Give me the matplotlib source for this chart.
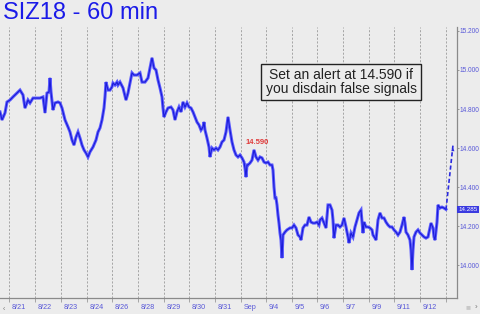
import matplotlib
matplotlib.use("Agg")
import matplotlib.pyplot as plt
import matplotlib.transforms as mtransforms
from matplotlib.patches import FancyArrowPatch

# ---- data (hourly bar index, price) ----
bars = [0, 2, 5, 7, 10, 13, 17, 20, 23, 25, 28, 30, 33, 37, 40, 43, 45, 47, 49, 50,
        51, 53, 55, 58, 60, 62, 65, 68, 70, 72, 74, 76, 78, 80, 82, 84, 86, 88, 90, 93,
        96, 98, 100, 102, 104, 105, 106, 108, 110, 112, 113, 115, 117, 118, 120, 123, 126, 128, 130, 132,
        134, 137, 140, 142, 145, 148, 150, 152, 154, 156, 158, 160, 162, 163, 164, 166, 168, 171, 173, 175,
        177, 179, 181, 183, 185, 187, 189, 191, 193, 195, 197, 199, 201, 203, 204, 205, 207, 209, 210, 212,
        214, 216, 218, 220, 222, 224, 226, 228, 230, 232, 234, 236, 238, 240, 242, 244, 245, 246, 247, 248,
        250, 252, 254, 256, 258, 260, 262, 264, 266, 268, 270, 272, 273, 274, 275, 276, 277, 278, 279, 280,
        281, 282, 283, 285, 287, 290, 292, 294, 296, 298, 300, 301, 303, 305, 307, 309, 311, 313, 315, 317,
        319, 320, 322, 324, 326, 328, 330, 332, 333, 334, 336, 338, 340, 342, 344, 346, 348, 349, 351, 353,
        355, 357, 359, 361, 362, 363, 364, 366, 368, 370, 372, 373, 375, 376, 378, 380, 382, 384, 386, 388,
        390, 392, 394, 396, 398, 400, 402, 404, 405, 406, 408, 410, 411, 412, 413, 414, 416, 418, 420, 422,
        424, 426, 428, 430, 431, 433, 434, 435, 437, 438, 440, 442, 444, 446]
prices = [14.785, 14.744, 14.780, 14.836, 14.846, 14.862, 14.882, 14.897, 14.872, 14.805,
          14.846, 14.831, 14.856, 14.856, 14.856, 14.862, 14.780, 14.882, 14.887, 14.959,
          14.887, 14.795, 14.831, 14.836, 14.831, 14.805, 14.744, 14.708, 14.682, 14.641,
          14.615, 14.656, 14.682, 14.651, 14.615, 14.590, 14.574, 14.554, 14.580, 14.605,
          14.641, 14.682, 14.703, 14.744, 14.805, 14.862, 14.938, 14.897, 14.897, 14.913,
          14.933, 14.923, 14.938, 14.923, 14.938, 14.908, 14.846, 14.882, 14.933, 14.985,
          14.974, 14.974, 14.985, 14.938, 14.938, 14.959, 15.010, 15.062, 15.010, 15.000,
          14.949, 14.908, 14.862, 14.805, 14.759, 14.785, 14.805, 14.810, 14.795, 14.744,
          14.785, 14.810, 14.785, 14.836, 14.810, 14.831, 14.810, 14.805, 14.785, 14.759,
          14.733, 14.718, 14.692, 14.708, 14.733, 14.692, 14.651, 14.605, 14.554, 14.600,
          14.590, 14.600, 14.590, 14.605, 14.631, 14.641, 14.682, 14.759, 14.692, 14.631,
          14.590, 14.564, 14.554, 14.564, 14.549, 14.528, 14.497, 14.451, 14.513, 14.513,
          14.523, 14.538, 14.590, 14.554, 14.538, 14.554, 14.549, 14.528, 14.523, 14.528,
          14.513, 14.513, 14.487, 14.400, 14.344, 14.344, 14.308, 14.256, 14.215, 14.164,
          14.128, 14.036, 14.154, 14.169, 14.180, 14.190, 14.190, 14.205, 14.190, 14.154,
          14.144, 14.128, 14.190, 14.205, 14.205, 14.246, 14.220, 14.215, 14.215, 14.220,
          14.205, 14.231, 14.241, 14.215, 14.190, 14.308, 14.308, 14.282, 14.231, 14.138,
          14.205, 14.205, 14.195, 14.205, 14.241, 14.195, 14.144, 14.113, 14.164, 14.144,
          14.195, 14.231, 14.267, 14.282, 14.220, 14.164, 14.220, 14.195, 14.195, 14.190,
          14.180, 14.154, 14.138, 14.128, 14.231, 14.267, 14.241, 14.241, 14.220, 14.205,
          14.195, 14.195, 14.180, 14.169, 14.154, 14.169, 14.205, 14.246, 14.215, 14.169,
          14.154, 14.128, 14.077, 13.975, 14.077, 14.144, 14.169, 14.180, 14.164, 14.154,
          14.144, 14.138, 14.144, 14.190, 14.215, 14.190, 14.144, 14.128, 14.220, 14.308,
          14.292, 14.297, 14.292, 14.285]

last_price = 14.285
target_price = 14.615
target_bar = 453
alert_bar = 254
alert_price = 14.590

day_bars = [9, 35, 61, 87, 112, 138, 164, 189, 215, 241, 266, 292, 317, 343, 369, 394, 420, 446]
day_labels = ["8/21", "8/22", "8/23", "8/24", "8/26", "8/28", "8/29", "8/30", "8/31",
              "Sep", "9/4", "9/5", "9/6", "9/7", "9/9", "9/11", "9/12", ""]
price_ticks = [14.0, 14.2, 14.4, 14.6, 14.8, 15.0, 15.2]

# ---- figure ----
BG = "#ececec"
W, H = 480, 314
fig = plt.figure(figsize=(W / 100, H / 100), dpi=100, facecolor=BG)
plt.rcParams["font.family"] = ["Liberation Sans", "DejaVu Sans"]
ax = fig.add_axes([0, 1 - 298 / H, 457 / W, (298 - 27) / H], facecolor=BG)

ax.set_xlim(0, 457)
ax.set_ylim(13.8308, 15.2205)

# vertical dashed day grid
for b in day_bars:
    ax.axvline(b, color="#9a9a9a", lw=0.6, ls=(0, (2.5, 2)), zorder=1)

# price line (hi-lo look)
ax.plot(bars, prices, color="#5c5cff", lw=2.2, solid_joinstyle="miter", zorder=3)
ax.plot(bars, prices, color="#1c1cd8", lw=0.8, zorder=4)

# dashed projection with arrow
ax.plot([bars[-1], target_bar], [prices[-1], target_price], color="#2a2ae0",
        lw=1.2, ls=(0, (2.5, 1.5)), zorder=4)
ax.add_patch(FancyArrowPatch((target_bar - 0.15, target_price - 0.03), (target_bar, target_price),
                             arrowstyle="-|>", mutation_scale=6, color="#2a2ae0", lw=0, zorder=5))

# alert label
ax.annotate(f"{alert_price:.3f}", (alert_bar, alert_price), xytext=(2, 3),
            textcoords="offset points", ha="center", va="bottom",
            fontsize=5.5, color="#e03a3a", fontweight="bold")

# spines
for s in ["top", "left"]:
    ax.spines[s].set_visible(False)
for s in ["bottom", "right"]:
    ax.spines[s].set_color("#8a8a8a")
    ax.spines[s].set_linewidth(0.9)

# y ticks on right
ax.yaxis.tick_right()
ax.set_yticks(price_ticks)
ax.set_yticklabels([f"{v:.3f}" for v in price_ticks])
ax.tick_params(axis="y", direction="out", length=1.5, width=0.6, colors="#8a8a8a",
               labelcolor="#5858d8", labelsize=4.7, pad=0.3)

# x ticks
ax.set_xticks(day_bars)
ax.set_xticklabels(day_labels)
ax.tick_params(axis="x", direction="out", length=3, width=0.6, colors="#9a9a9a",
               labelcolor="#5858d8", labelsize=5.2, pad=1.0)
offset = mtransforms.ScaledTranslation(3 / 100, 0, fig.dpi_scale_trans)
for lab in ax.get_xticklabels():
    lab.set_ha("left")
    lab.set_transform(lab.get_transform() + offset)

# last price box
ax.annotate(f"{last_price:.3f}", (1.0, last_price), xycoords=("axes fraction", "data"),
            xytext=(1.0, 0), textcoords="offset points", ha="left", va="center",
            fontsize=4.5, color="white",
            bbox=dict(boxstyle="square,pad=0.2", fc="#3a3ae0", ec="none"),
            annotation_clip=False, zorder=6)

# title
fig.text(3 / W, 1 - 2 / H, "SIZ18 - 60 min", ha="left", va="top",
         fontsize=17, color="#1a1ae8")

# comment box
fig.text(341 / W, 1 - 82 / H, "Set an alert at 14.590 if\nyou disdain false signals",
         ha="center", va="center", fontsize=10, color="#222222", linespacing=1.05,
         bbox=dict(boxstyle="square,pad=0.3", fc=BG, ec="#222222", lw=1.0))

# small scroll glyphs
fig.text(3 / W, 1 - 310 / H, "‹", fontsize=5, color="#777777", ha="left", va="center")
fig.text(470 / W, 1 - 308 / H, "■", fontsize=6, color="#c8c8c8", ha="right", va="center")
fig.text(477 / W, 1 - 308 / H, "›", fontsize=6, color="#777777", ha="right", va="center")

fig.savefig("out.png", dpi=100, facecolor=BG)
